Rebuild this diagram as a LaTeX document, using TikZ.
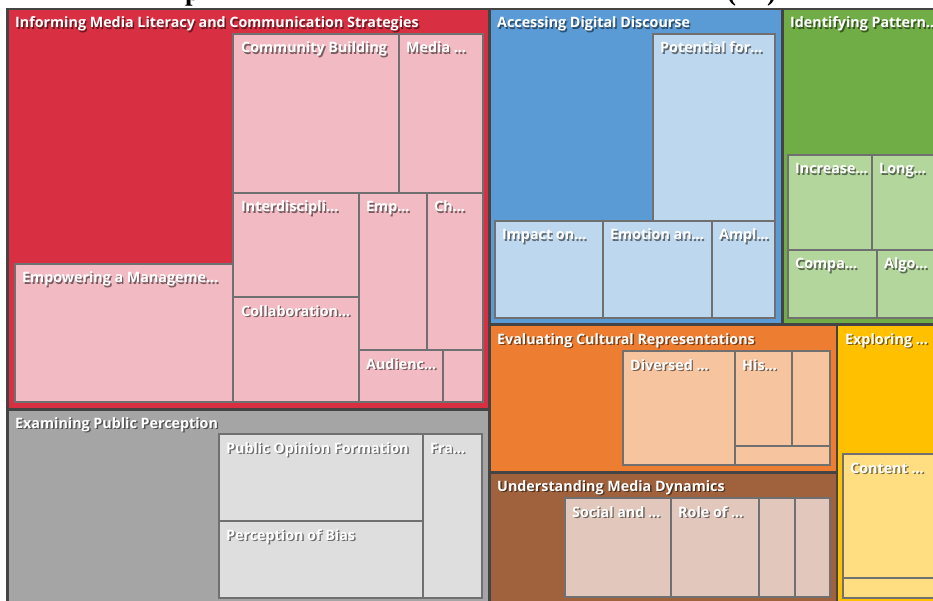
\documentclass[tikz,border=0pt]{standalone}
\usepackage{fontspec}
\newfontfamily\tmfont{Open Sans}
\newfontfamily\titlefont{Liberation Serif}
\definecolor{framegray}{RGB}{68,68,68}
\definecolor{leafline}{RGB}{112,112,112}
\definecolor{redgrp}{RGB}{216,48,66}
\definecolor{redleaf}{RGB}{242,186,194}
\definecolor{bluegrp}{RGB}{91,155,213}
\definecolor{blueleaf}{RGB}{189,215,238}
\definecolor{greengrp}{RGB}{112,173,71}
\definecolor{greenleaf}{RGB}{178,214,156}
\definecolor{graygrp}{RGB}{165,165,165}
\definecolor{grayleaf}{RGB}{222,222,222}
\definecolor{orangegrp}{RGB}{237,125,49}
\definecolor{orangeleaf}{RGB}{247,196,160}
\definecolor{browngrp}{RGB}{160,98,60}
\definecolor{brownleaf}{RGB}{226,200,188}
\definecolor{yellowgrp}{RGB}{255,192,0}
\definecolor{yellowleaf}{RGB}{255,222,130}
% label with a soft shadow: name, x, y, text
\newcommand{\tmlabel}[4]{%
  \node[lblshadow] (#1s) at ({#2+1.4},{#3+1.4}) {#4};
  \node[lbl] (#1) at (#2,#3) {#4};}
\begin{document}
\begin{tikzpicture}[x=1pt,y=-1pt]
 \tikzset{group/.style={fill=#1},
  leaf/.style={fill=#1, draw=leafline, line width=1.3pt},
  lbl/.style={anchor=base west, inner sep=0pt, text=white, font=\tmfont\bfseries\fontsize{14.3}{16}\selectfont},
  lblshadow/.style={lbl, text=black, opacity=0.5},
  titletxt/.style={anchor=base west, inner sep=0pt, font=\titlefont\bfseries\fontsize{27}{30}\selectfont}}
 \clip (0,0) rectangle (933,601);
 \fill[white] (0,0) rectangle (933,601);
 % cut title
 \node[titletxt] (titlep) at (185,1) {p};
 \node[titletxt] (titlelp) at (727,1) {(};
 \node[titletxt] (titlerp) at (767,1) {)};
 \fill[framegray] (6,8) rectangle (933,601);
 % groups
 \fill[group=redgrp] (9,10.5) rectangle (487.5,407.5);
 \fill[group=graygrp] (9,410.5) rectangle (487.5,601);
 \fill[group=bluegrp] (490.5,10.5) rectangle (781,323);
 \fill[group=greengrp] (783.5,10.5) rectangle (933,323);
 \fill[group=orangegrp] (490.5,326) rectangle (835.5,470.5);
 \fill[group=browngrp] (490.5,473.5) rectangle (835.5,601);
 \fill[group=yellowgrp] (838,326) rectangle (933,601);
 % leaves
 \draw[leaf=redleaf] (233,34) rectangle (399,193);
 \draw[leaf=redleaf] (399,34) rectangle (483,193);
 \draw[leaf=redleaf] (233,193) rectangle (359,297);
 \draw[leaf=redleaf] (233,297) rectangle (359,402);
 \draw[leaf=redleaf] (359,193) rectangle (427,350);
 \draw[leaf=redleaf] (427,193) rectangle (483,350);
 \draw[leaf=redleaf] (359,350) rectangle (443,402);
 \draw[leaf=redleaf] (443,350) rectangle (483,402);
 \draw[leaf=redleaf] (15,264) rectangle (233,402);
 \draw[leaf=grayleaf] (219,434) rectangle (423,521);
 \draw[leaf=grayleaf] (219,521) rectangle (423,598);
 \draw[leaf=grayleaf] (423,434) rectangle (482,598);
 \draw[leaf=blueleaf] (653,34) rectangle (775,221);
 \draw[leaf=blueleaf] (495,221) rectangle (603,318);
 \draw[leaf=blueleaf] (603,221) rectangle (712,318);
 \draw[leaf=blueleaf] (712,221) rectangle (775,318);
 \draw[leaf=greenleaf] (788,155) rectangle (872,250);
 \draw[leaf=greenleaf] (872,155) rectangle (945,250);
 \draw[leaf=greenleaf] (788,250) rectangle (877,318);
 \draw[leaf=greenleaf] (877,250) rectangle (945,318);
 \draw[leaf=orangeleaf] (623,351) rectangle (735,465);
 \draw[leaf=orangeleaf] (735,351) rectangle (792,446);
 \draw[leaf=orangeleaf] (792,351) rectangle (830,446);
 \draw[leaf=orangeleaf] (735,446) rectangle (830,465);
 \draw[leaf=brownleaf] (565,498) rectangle (671,597);
 \draw[leaf=brownleaf] (671,498) rectangle (759,597);
 \draw[leaf=brownleaf] (759,498) rectangle (795,597);
 \draw[leaf=brownleaf] (795,498) rectangle (830,597);
 \draw[leaf=yellowleaf] (843,454) rectangle (945,578);
 \draw[leaf=yellowleaf] (843,578) rectangle (945,598);
 % group labels
 \tmlabel{informing}{15}{28}{Informing Media Literacy and Communication Strategies}
 \tmlabel{examining}{15}{428}{Examining Public Perception}
 \tmlabel{accessing}{497}{28}{Accessing Digital Discourse}
 \tmlabel{identifying}{790}{28}{Identifying Pattern...}
 \tmlabel{evaluating}{497}{344}{Evaluating Cultural Representations}
 \tmlabel{understanding}{497}{491}{Understanding Media Dynamics}
 \tmlabel{exploring}{845}{344}{Exploring ...}
 % leaf labels
 \tmlabel{community}{241}{53}{Community Building}
 \tmlabel{media}{406}{53}{Media ...}
 \tmlabel{interdis}{241}{212}{Interdiscipli...}
 \tmlabel{collab}{241}{316}{Collaboration...}
 \tmlabel{emp}{366}{212}{Emp...}
 \tmlabel{ch}{434}{212}{Ch...}
 \tmlabel{audience}{366}{369}{Audienc...}
 \tmlabel{empowering}{22}{283}{Empowering a Manageme...}
 \tmlabel{opinion}{226}{453}{Public Opinion Formation}
 \tmlabel{bias}{226}{540}{Perception of Bias}
 \tmlabel{framing}{430}{453}{Fra...}
 \tmlabel{potential}{660}{53}{Potential for...}
 \tmlabel{impact}{502}{240}{Impact on...}
 \tmlabel{emotion}{610}{240}{Emotion an...}
 \tmlabel{ampl}{719}{240}{Ampl...}
 \tmlabel{increase}{795}{174}{Increase...}
 \tmlabel{long}{879}{174}{Long...}
 \tmlabel{compa}{795}{269}{Compa...}
 \tmlabel{algo}{884}{269}{Algo...}
 \tmlabel{diversed}{630}{370}{Diversed ...}
 \tmlabel{history}{742}{370}{His...}
 \tmlabel{social}{572}{517}{Social and ...}
 \tmlabel{role}{678}{517}{Role of ...}
 \tmlabel{content}{850}{473}{Content ...}
\end{tikzpicture}
\end{document}
